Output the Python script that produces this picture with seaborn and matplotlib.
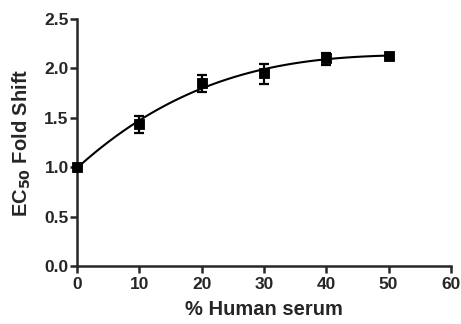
import pandas as pd
import numpy as np
import matplotlib.pyplot as plt
import seaborn as sns

serum = [0, 10, 20, 30, 40, 50]
fold_shift = [1.00, 1.44, 1.85, 1.955, 2.105, 2.13]
err_low = [0.0, 0.09, 0.09, 0.115, 0.07, 0.0]
err_high = [0.0, 0.08, 0.08, 0.095, 0.055, 0.0]

data = pd.DataFrame({"serum": serum, "shift": fold_shift})

sns.set_style("ticks")
plt.rcParams['font.family'] = ['Liberation Sans', 'DejaVu Sans']
plt.rcParams['font.weight'] = 'bold'

fig = plt.figure(figsize=(4.61, 3.24), dpi=100)
ax = fig.add_axes([0.167, 0.179, 0.811, 0.762])

# fitted curve
sns.regplot(data=data, x="serum", y="shift", order=3, ci=None, scatter=False,
            truncate=True, line_kws={"color": "black", "lw": 1.5}, ax=ax)
ax.errorbar(serum, fold_shift, yerr=[err_low, err_high], fmt="none",
            ecolor="black", elinewidth=1.6, capsize=3.8, capthick=1.6, zorder=3)
sns.scatterplot(data=data, x="serum", y="shift", marker="s", s=60,
                color="black", edgecolor="black", zorder=4, clip_on=False, ax=ax)

ax.set_xlim(0, 60)
ax.set_ylim(0, 2.5)
ax.set_xticks(range(0, 61, 10))
ax.set_yticks(np.arange(0, 2.51, 0.5))
ax.yaxis.set_major_formatter(plt.FormatStrFormatter('%.1f'))
ax.set_xlabel("% Human serum", fontsize=14.5, fontweight="bold", labelpad=6)
ax.set_ylabel("EC$_{\\mathbf{50}}$ Fold Shift", fontsize=14.5, fontweight="bold", labelpad=8)
ax.tick_params(labelsize=12.5, width=1.8, length=5, pad=1)
ax.tick_params(axis="x", pad=3)
for lab in ax.get_xticklabels() + ax.get_yticklabels():
    lab.set_fontweight("bold")
for s in ["left", "bottom"]:
    ax.spines[s].set_linewidth(1.8)
sns.despine(ax=ax)

fig.savefig("out.png", dpi=100)
